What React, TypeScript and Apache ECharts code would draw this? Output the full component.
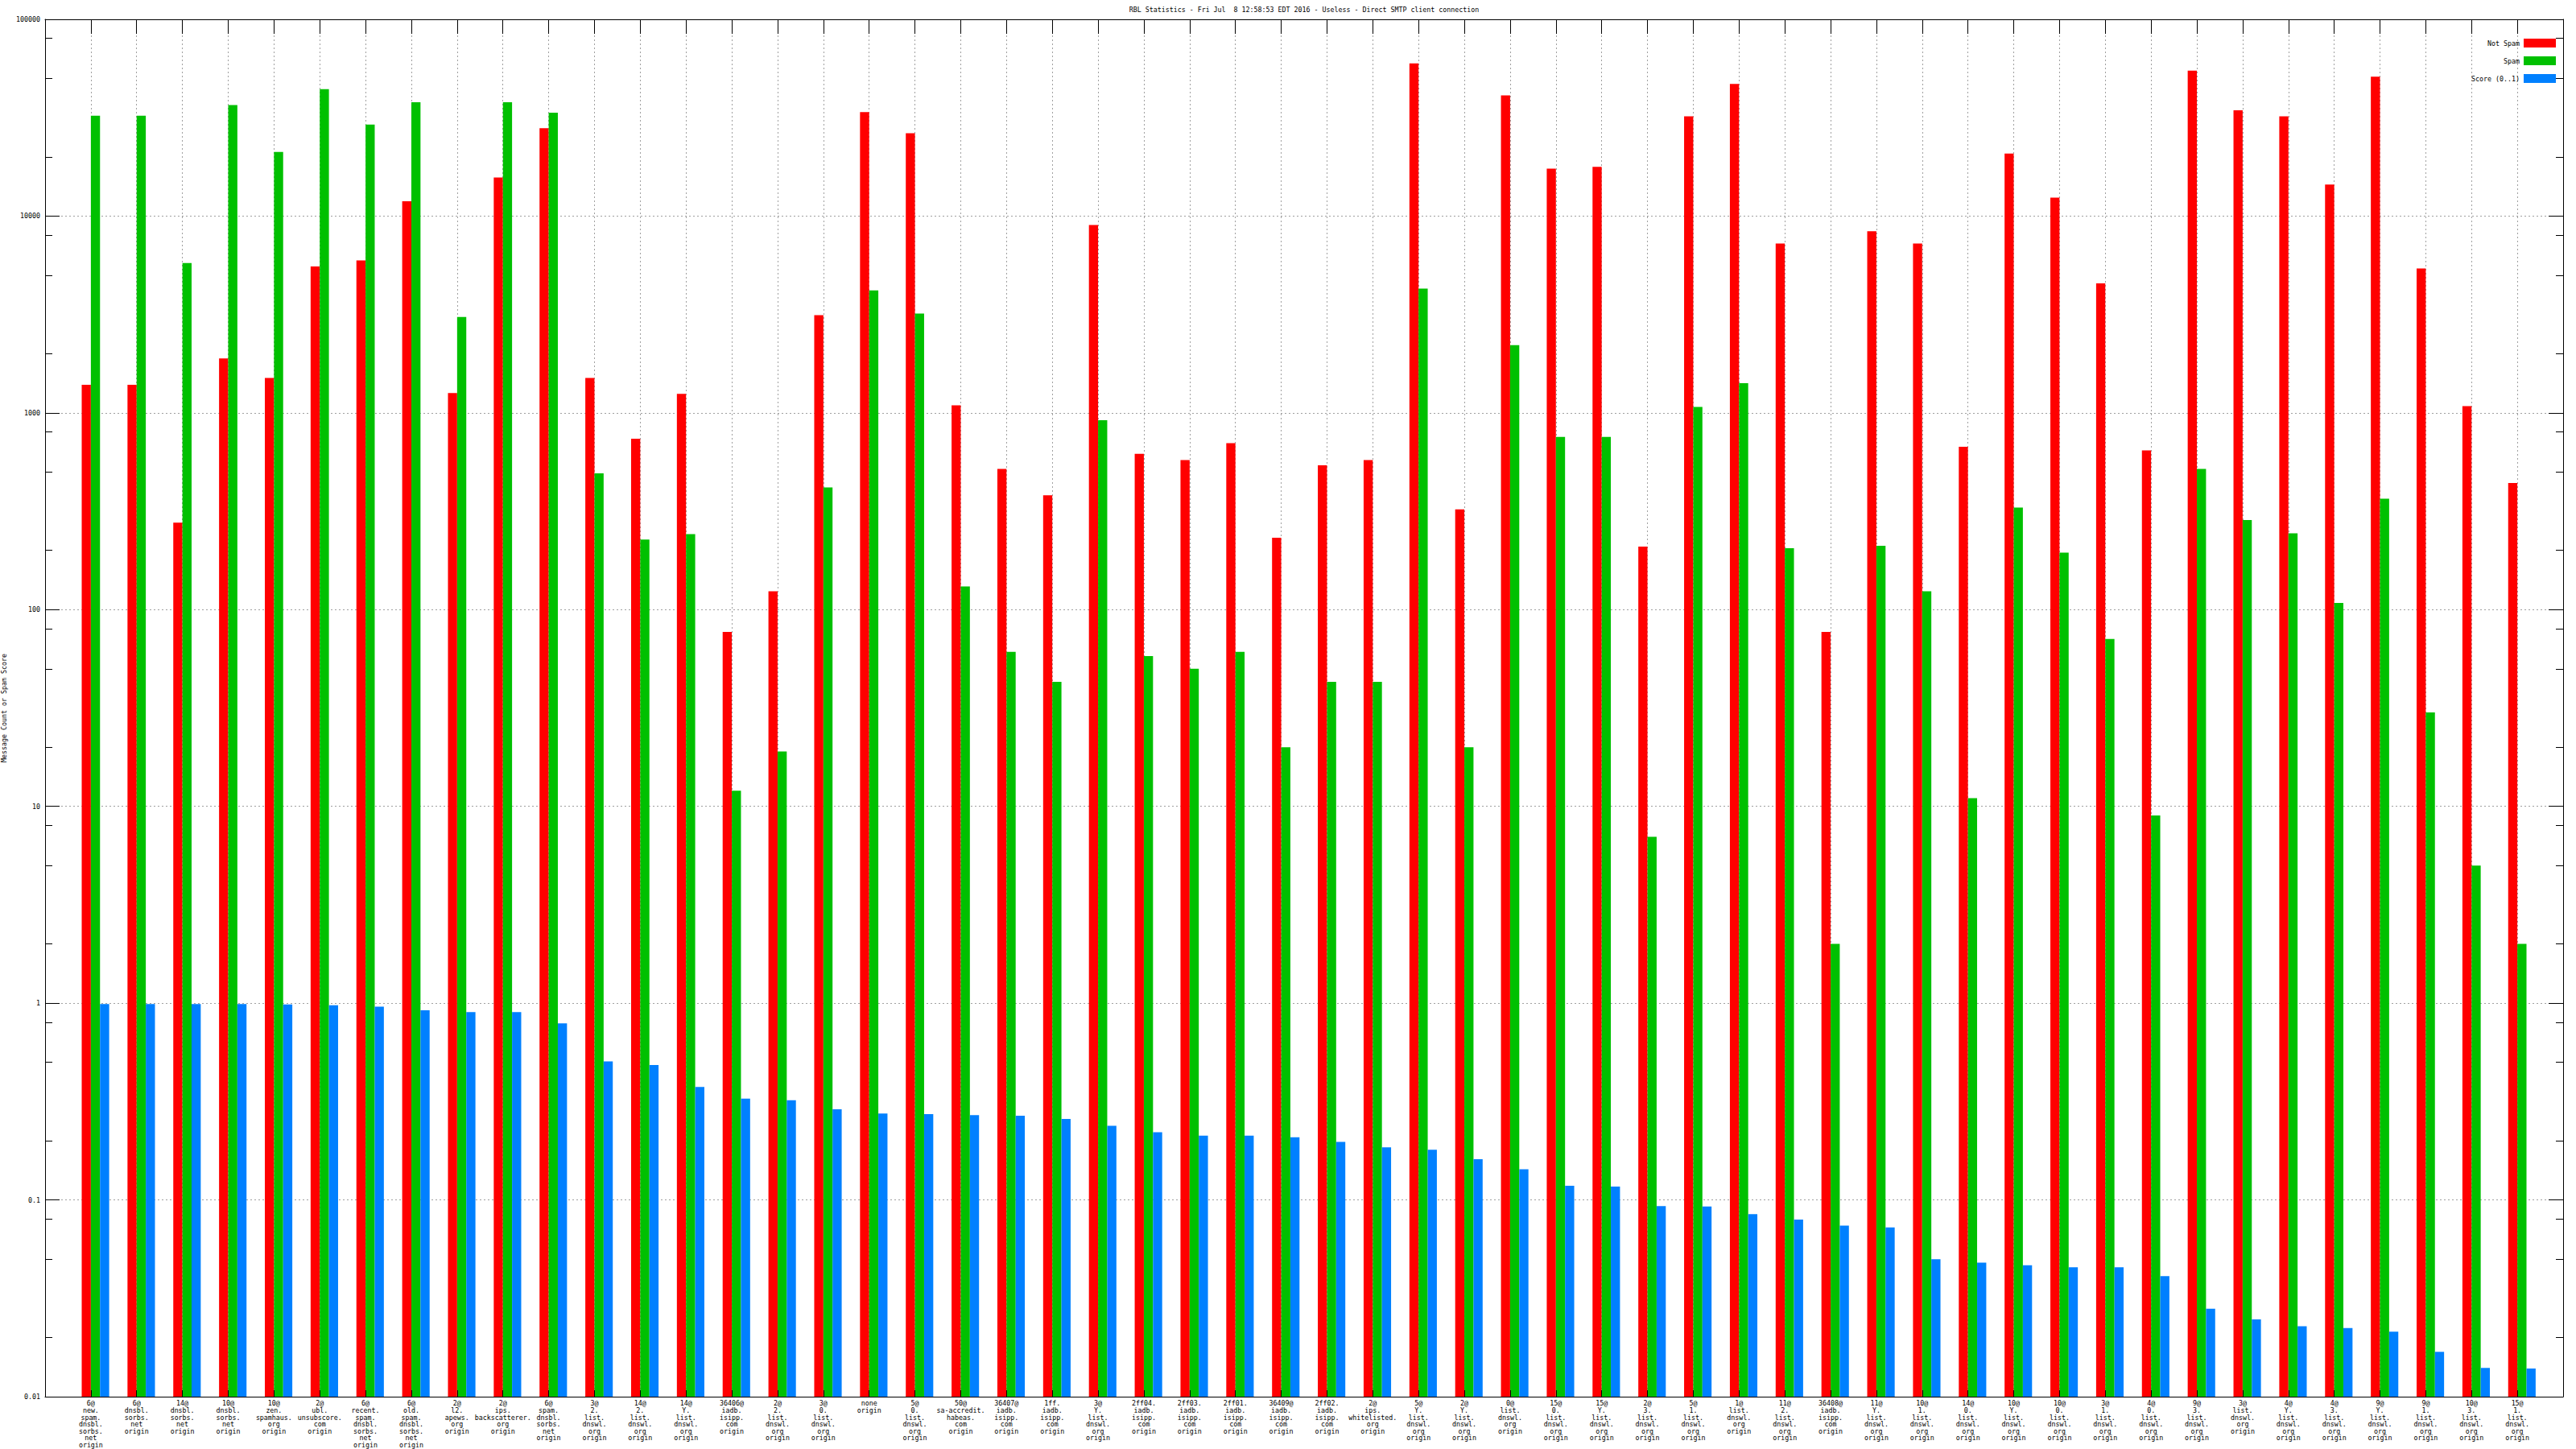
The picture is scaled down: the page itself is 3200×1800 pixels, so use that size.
import React, { useEffect, useRef } from 'react';
import * as echarts from 'echarts';

const FONT = '"DejaVu Sans Mono", "Liberation Mono", monospace';

const titleText =
  'RBL Statistics - Fri Jul  8 12:58:53 EDT 2016 - Useless - Direct SMTP client connection';
const yAxisName = 'Message Count or Spam Score';
const seriesNames = ['Not Spam', 'Spam', 'Score (0..1)'];

const categories = [
  '6@\nnew.\nspam.\ndnsbl.\nsorbs.\nnet\norigin',
  '6@\ndnsbl.\nsorbs.\nnet\norigin',
  '14@\ndnsbl.\nsorbs.\nnet\norigin',
  '10@\ndnsbl.\nsorbs.\nnet\norigin',
  '10@\nzen.\nspamhaus.\norg\norigin',
  '2@\nubl.\nunsubscore.\ncom\norigin',
  '6@\nrecent.\nspam.\ndnsbl.\nsorbs.\nnet\norigin',
  '6@\nold.\nspam.\ndnsbl.\nsorbs.\nnet\norigin',
  '2@\nl2.\napews.\norg\norigin',
  '2@\nips.\nbackscatterer.\norg\norigin',
  '6@\nspam.\ndnsbl.\nsorbs.\nnet\norigin',
  '3@\n2.\nlist.\ndnswl.\norg\norigin',
  '14@\n2.\nlist.\ndnswl.\norg\norigin',
  '14@\nY.\nlist.\ndnswl.\norg\norigin',
  '36406@\niadb.\nisipp.\ncom\norigin',
  '2@\n2.\nlist.\ndnswl.\norg\norigin',
  '3@\n0.\nlist.\ndnswl.\norg\norigin',
  'none\norigin',
  '5@\n0.\nlist.\ndnswl.\norg\norigin',
  '50@\nsa-accredit.\nhabeas.\ncom\norigin',
  '36407@\niadb.\nisipp.\ncom\norigin',
  '1ff.\niadb.\nisipp.\ncom\norigin',
  '3@\nY.\nlist.\ndnswl.\norg\norigin',
  '2ff04.\niadb.\nisipp.\ncom\norigin',
  '2ff03.\niadb.\nisipp.\ncom\norigin',
  '2ff01.\niadb.\nisipp.\ncom\norigin',
  '36409@\niadb.\nisipp.\ncom\norigin',
  '2ff02.\niadb.\nisipp.\ncom\norigin',
  '2@\nips.\nwhitelisted.\norg\norigin',
  '5@\nY.\nlist.\ndnswl.\norg\norigin',
  '2@\nY.\nlist.\ndnswl.\norg\norigin',
  '0@\nlist.\ndnswl.\norg\norigin',
  '15@\n0.\nlist.\ndnswl.\norg\norigin',
  '15@\nY.\nlist.\ndnswl.\norg\norigin',
  '2@\n3.\nlist.\ndnswl.\norg\norigin',
  '5@\n1.\nlist.\ndnswl.\norg\norigin',
  '1@\nlist.\ndnswl.\norg\norigin',
  '11@\n2.\nlist.\ndnswl.\norg\norigin',
  '36408@\niadb.\nisipp.\ncom\norigin',
  '11@\nY.\nlist.\ndnswl.\norg\norigin',
  '10@\n1.\nlist.\ndnswl.\norg\norigin',
  '14@\n0.\nlist.\ndnswl.\norg\norigin',
  '10@\nY.\nlist.\ndnswl.\norg\norigin',
  '10@\n0.\nlist.\ndnswl.\norg\norigin',
  '3@\n1.\nlist.\ndnswl.\norg\norigin',
  '4@\n0.\nlist.\ndnswl.\norg\norigin',
  '9@\n3.\nlist.\ndnswl.\norg\norigin',
  '3@\nlist.\ndnswl.\norg\norigin',
  '4@\nY.\nlist.\ndnswl.\norg\norigin',
  '4@\n3.\nlist.\ndnswl.\norg\norigin',
  '9@\nY.\nlist.\ndnswl.\norg\norigin',
  '9@\n1.\nlist.\ndnswl.\norg\norigin',
  '10@\n3.\nlist.\ndnswl.\norg\norigin',
  '15@\n1.\nlist.\ndnswl.\norg\norigin',
];

const notSpam = [
  1390, 1390, 277, 1890, 1506, 5540, 5950, 11900, 1262, 15700,
  28000, 1506, 738, 1250, 77, 124, 3135, 33800, 26400, 1093,
  519, 381, 9000, 619, 576, 701, 232, 541, 576, 59700,
  323, 41100, 17430, 17800, 209, 32100, 47000, 7250, 77, 8370,
  7250, 673, 20800, 12400, 4550, 645, 54900, 34500, 32100, 14480,
  51100, 5420, 1082, 440,
];

const spam = [
  32400, 32400, 5770, 36700, 21200, 44200, 29200, 37900, 3070, 37900,
  33500, 493, 227, 242, 12, 19, 418, 4190, 3200, 131,
  61, 43, 917, 58, 50, 61, 20, 43, 43, 4280,
  20, 2210, 754, 754, 7, 1071, 1415, 205, 2, 211,
  124, 11, 330, 195, 71, 9, 519, 285, 244, 108,
  366, 30, 5, 2,
];

const score = [
  0.99, 0.99, 0.99, 0.99, 0.985, 0.975, 0.96, 0.92, 0.9, 0.9,
  0.79, 0.506, 0.485, 0.375, 0.327, 0.321, 0.289, 0.275, 0.273, 0.27,
  0.268, 0.258, 0.238, 0.221, 0.212, 0.212, 0.208, 0.197, 0.185, 0.18,
  0.161, 0.143, 0.118, 0.117, 0.093, 0.0925, 0.0846, 0.0795, 0.074, 0.0724,
  0.0499, 0.048, 0.0465, 0.0455, 0.0455, 0.041, 0.028, 0.0247, 0.0228, 0.0223,
  0.0214, 0.0169, 0.014, 0.0139,
];

const yMajorTicks = [0.01, 0.1, 1, 10, 100, 1000, 10000, 100000];
const yTickLabels = ['0.01', '0.1', '1', '10', '100', '1000', '10000', '100000'];
const yMinorTicks = [
  0.02, 0.05, 0.08, 0.2, 0.5, 0.8, 2, 5, 8, 20, 50, 80,
  200, 500, 800, 2000, 5000, 8000, 20000, 50000, 80000,
];

const colors = ['#ff0000', '#00c000', '#0080ff'];

export default function App() {
  const ref = useRef<HTMLDivElement>(null);

  useEffect(() => {
    const chart = echarts.init(ref.current as HTMLDivElement, null, { renderer: 'svg' });
    const xData = ['', ...categories, ''];
    const pad = (arr: number[]) => [null, ...arr, null];
    const black = '#000000';
    const tickLabel = (v: number) => {
      for (let i = 0; i < yMajorTicks.length; i++) {
        if (Math.abs(Math.log10(v) - Math.log10(yMajorTicks[i])) < 1e-6) return yTickLabels[i];
      }
      return '';
    };
    const logAxisBase = {
      type: 'log',
      logBase: 10,
      min: 0.01,
      max: 100000,
    };

    const option: any = {
      animation: false,
      backgroundColor: '#ffffff',
      textStyle: { fontFamily: FONT },
      title: {
        text: titleText,
        left: 1620,
        top: 8,
        padding: 0,
        textAlign: 'center',
        textStyle: { fontFamily: FONT, fontSize: 8.3, fontWeight: 'normal', color: black },
      },
      legend: {
        data: seriesNames,
        orient: 'vertical',
        right: 25,
        top: 48,
        padding: 0,
        align: 'right',
        icon: 'rect',
        itemWidth: 40,
        itemHeight: 11,
        itemGap: 11,
        textStyle: { fontFamily: FONT, fontSize: 8.3, color: black },
      },
      grid: { left: 56, right: 16, top: 24, bottom: 65, containLabel: false, outerBoundsMode: 'none' },
      xAxis: [
        {
          type: 'category',
          data: xData,
          boundaryGap: false,
          position: 'bottom',
          axisLine: { show: true, lineStyle: { color: black, width: 1 } },
          axisTick: { show: false },
          axisLabel: {
            interval: 0,
            margin: 4,
            fontFamily: FONT,
            fontSize: 8.3,
            lineHeight: 8.6,
            color: black,
            align: 'center',
          },
          splitLine: {
            show: true,
            interval: 0,
            lineStyle: { color: '#a0a0a0', width: 1, type: [2, 3] },
          },
        },
        {
          type: 'category',
          data: xData,
          boundaryGap: false,
          position: 'top',
          axisLine: { show: true, lineStyle: { color: black, width: 1 } },
          axisTick: { show: true, inside: true, length: 18, interval: 0, lineStyle: { color: black, width: 1 } },
          axisLabel: { show: false },
          splitLine: { show: false },
        },
        {
          type: 'category',
          data: xData,
          boundaryGap: false,
          position: 'bottom',
          z: 5,
          axisLine: { show: false },
          axisTick: { show: true, inside: true, length: 8, interval: 0, lineStyle: { color: black, width: 1 } },
          axisLabel: { show: false },
          splitLine: { show: false },
        },
      ],
      yAxis: [
        {
          ...logAxisBase,
          position: 'left',
          startValue: 0.01,
          name: yAxisName,
          nameLocation: 'middle',
          nameRotate: 90,
          nameGap: 44,
          nameTextStyle: { fontFamily: FONT, fontSize: 8.3, color: black },
          axisLine: { show: true, lineStyle: { color: black, width: 1 } },
          axisTick: {
            show: true,
            inside: true,
            length: 18,
            customValues: yMajorTicks,
            lineStyle: { color: black, width: 1 },
          },
          axisLabel: {
            margin: 6,
            fontFamily: FONT,
            fontSize: 8.3,
            color: black,
            customValues: yMajorTicks,
            formatter: tickLabel,
          },
          splitLine: {
            show: true,
            lineStyle: { color: '#a0a0a0', width: 1, type: [2, 3] },
          },
        },
        {
          ...logAxisBase,
          position: 'right',
          axisLine: { show: true, lineStyle: { color: black, width: 1 } },
          axisTick: {
            show: true,
            inside: true,
            length: 18,
            customValues: yMajorTicks,
            lineStyle: { color: black, width: 1 },
          },
          axisLabel: { show: false },
          splitLine: { show: false },
        },
        {
          ...logAxisBase,
          position: 'left',
          axisLine: { show: false },
          axisTick: {
            show: true,
            inside: true,
            length: 9,
            customValues: yMinorTicks,
            lineStyle: { color: black, width: 1 },
          },
          axisLabel: { show: false },
          splitLine: { show: false },
        },
        {
          ...logAxisBase,
          position: 'right',
          axisLine: { show: false },
          axisTick: {
            show: true,
            inside: true,
            length: 9,
            customValues: yMinorTicks,
            lineStyle: { color: black, width: 1 },
          },
          axisLabel: { show: false },
          splitLine: { show: false },
        },
      ],
      series: [
        {
          name: '__offset',
          type: 'bar',
          data: [],
          barWidth: '20%',
          barGap: '0%',
          silent: true,
        },
        {
          name: seriesNames[0],
          type: 'bar',
          data: pad(notSpam),
          barWidth: '20%',
          barGap: '0%',
          itemStyle: { color: colors[0] },
        },
        {
          name: seriesNames[1],
          type: 'bar',
          data: pad(spam),
          barWidth: '20%',
          barGap: '0%',
          itemStyle: { color: colors[1] },
        },
        {
          name: seriesNames[2],
          type: 'bar',
          data: pad(score),
          barWidth: '20%',
          barGap: '0%',
          itemStyle: { color: colors[2] },
        },
      ],
    };

    chart.setOption(option);
    return () => chart.dispose();
  }, []);

  return (
    <div
      ref={ref}
      style={{ position: 'absolute', left: 0, top: 0, width: 3200, height: 1800, background: '#ffffff' }}
    />
  );
}
